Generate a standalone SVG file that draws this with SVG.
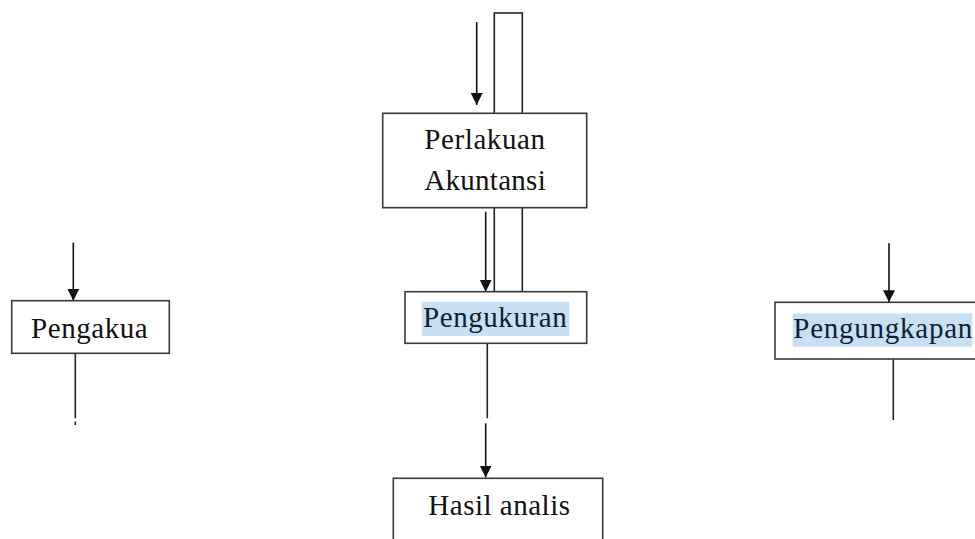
<svg xmlns="http://www.w3.org/2000/svg" width="975" height="539" viewBox="0 0 975 539">
<style>
.box{fill:#fff;stroke:#3a3a3a;stroke-width:1.6}
.ln{stroke:#222;stroke-width:1.6;fill:none}
.ar{stroke:#111;stroke-width:1.6;fill:none;marker-end:url(#ah)}
.hl{fill:#c9dff3}
.t{font-family:"Liberation Serif","Times New Roman",serif;font-size:29px;fill:#111}
.tb{font-family:"Liberation Serif","Times New Roman",serif;font-size:29px;fill:#0d1f33}
</style>
<defs>
<marker id="ah" markerUnits="userSpaceOnUse" markerWidth="12" markerHeight="13" refX="12" refY="6" orient="auto">
<path d="M0,0 L12,6 L0,12 Z" fill="#111"/>
</marker>
</defs>
<rect width="975" height="539" fill="#fff"/>
<g id="connectors">
<rect x="494.3" y="13" width="28" height="278.7" class="ln"/>
<line x1="476.7" y1="22" x2="476.7" y2="105" class="ar"/>
<line x1="485.7" y1="211.7" x2="485.7" y2="291.7" class="ar"/>
<line x1="73.3" y1="242.7" x2="73.3" y2="300.7" class="ar"/>
<line x1="889" y1="243.3" x2="889" y2="302.3" class="ar"/>
<line x1="75.3" y1="353.3" x2="75.3" y2="418.3" class="ln"/>
<line x1="75.3" y1="421.5" x2="75.3" y2="425" class="ln" stroke-width="1"/>
<line x1="893.3" y1="359" x2="893.3" y2="420" class="ln"/>
<line x1="487.3" y1="343.3" x2="487.3" y2="418.3" class="ln"/>
<line x1="485.7" y1="423.3" x2="485.7" y2="477.5" class="ar"/>
</g>
<g id="perlakuan">
<rect x="382.7" y="113.3" width="204" height="94.4" class="box"/>
<text x="424.3" y="149" class="t" textLength="120.7" lengthAdjust="spacing">Perlakuan</text>
<text x="424.3" y="190" class="t" textLength="121.4" lengthAdjust="spacing">Akuntansi</text>
</g>
<g id="pengukuran">
<rect x="405" y="291.7" width="181.7" height="51.6" class="box"/>
<rect x="421.7" y="301.7" width="147.6" height="34.3" class="hl"/>
<text x="423" y="326.7" class="tb" textLength="143.7" lengthAdjust="spacing">Pengukuran</text>
</g>
<g id="pengakua">
<rect x="11.7" y="300.7" width="157.6" height="52.6" class="box"/>
<text x="31" y="338.3" class="t" textLength="116.7" lengthAdjust="spacing">Pengakua</text>
</g>
<g id="pengungkapan">
<rect x="775" y="302.3" width="215" height="56.7" class="box"/>
<rect x="792.7" y="313.3" width="179.6" height="33.4" class="hl"/>
<text x="793.3" y="338.3" class="tb" textLength="179" lengthAdjust="spacing">Pengungkapan</text>
</g>
<g id="hasil">
<rect x="393.3" y="478.3" width="209.4" height="80" class="box"/>
<text x="428.3" y="515" class="t" textLength="141.7" lengthAdjust="spacing">Hasil analis</text>
</g>
</svg>
